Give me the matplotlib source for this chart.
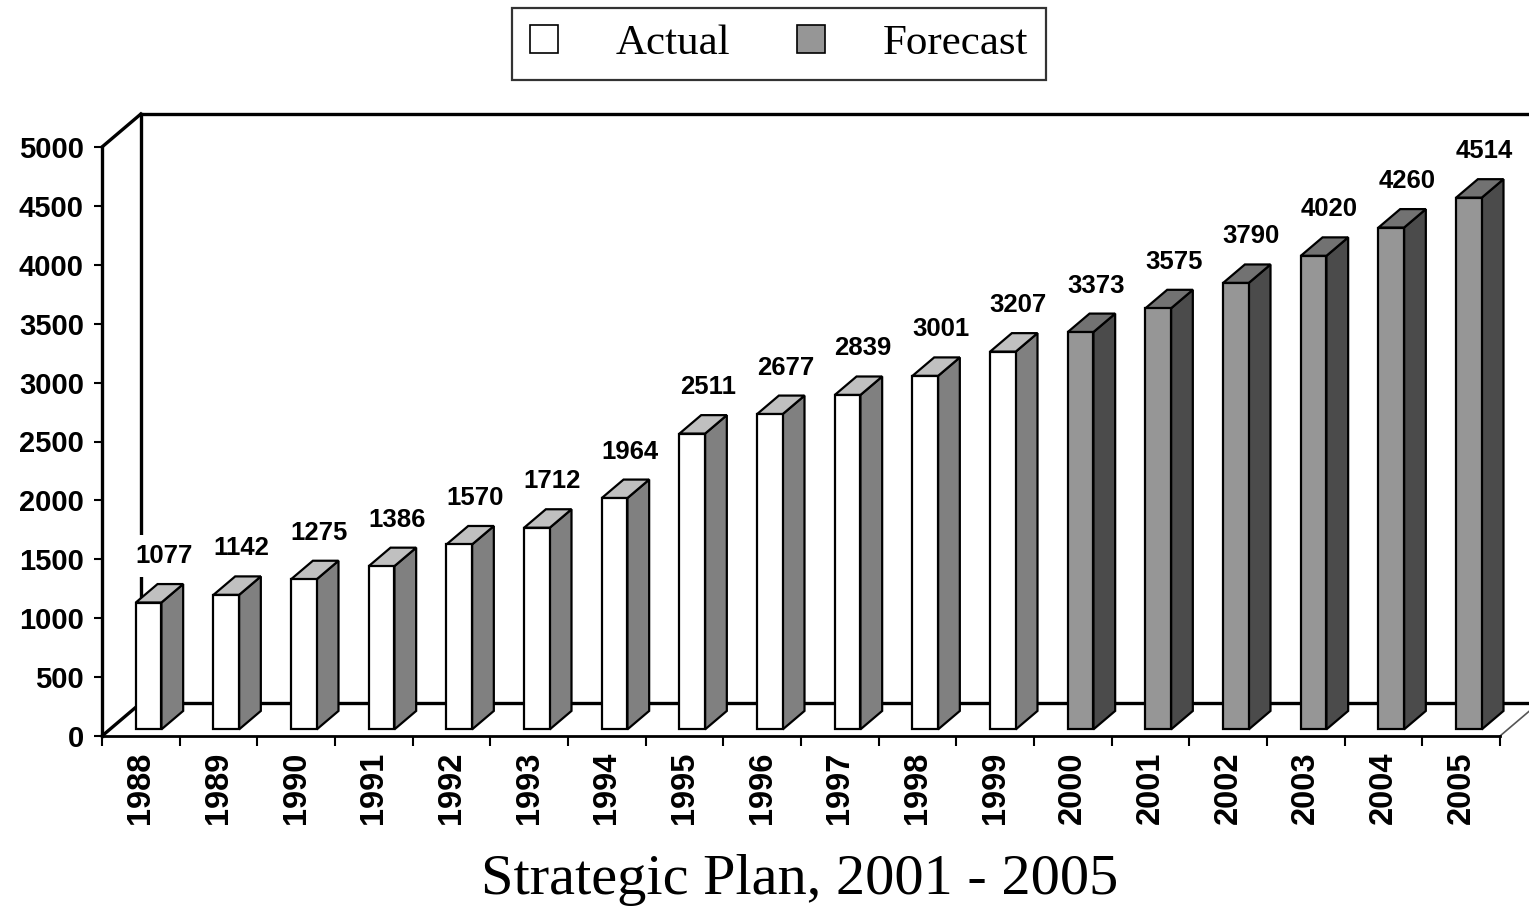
import matplotlib
matplotlib.use("Agg")
import matplotlib.pyplot as plt
from matplotlib.patches import Polygon, Patch

# ── data ──────────────────────────────────────────────────────────────────────
years = [str(y) for y in range(1988, 2006)]
values = [1077, 1142, 1275, 1386, 1570, 1712, 1964, 2511, 2677,
          2839, 3001, 3207, 3373, 3575, 3790, 4020, 4260, 4514]
n_actual = 12                      # 1988-1999 actual, 2000-2005 forecast
y_ticks = list(range(0, 5001, 500))
title = "Strategic Plan, 2001 - 2005"

# ── styling ───────────────────────────────────────────────────────────────────
SANS = "Liberation Sans"
SERIF = "Liberation Serif"
DX, DY = 0.5, 280.0                # oblique offset of one unit of depth
BAR_W = 0.33
D0, D1 = 0.2, 0.76                 # bar depth range inside the box

actual_cols = {"front": "#ffffff", "side": "#808080", "top": "#c0c0c0"}
fcst_cols = {"front": "#969696", "side": "#4b4b4b", "top": "#727272"}


def proj(x, y, d):
    return (x + d * DX, y + d * DY)


fig = plt.figure(figsize=(15.29, 9.08), dpi=100)
ax = fig.add_axes([102 / 1529, (908 - 736) / 908, 1398 / 1529, 589 / 908])
ax.set_xlim(-0.5, len(years) - 0.5)
ax.set_ylim(0, 5000)
ax.patch.set_alpha(0)

x_lo, x_hi = -0.5, len(years) - 0.5
y_hi = 5000

# back wall / floor outline
wall = dict(color="black", lw=2.4, clip_on=False, solid_capstyle="projecting")
for a, b in [((x_lo, y_hi, 0), (x_lo, y_hi, 1)),
             ((x_lo, 0, 0), (x_lo, 0, 1)),
             ((x_lo, 0, 1), (x_lo, y_hi, 1)),
             ((x_lo, y_hi, 1), (x_hi + 0.6, y_hi, 1)),
             ((x_lo, 0, 1), (x_hi + 0.6, 0, 1))]:
    p, q = proj(*a), proj(*b)
    ax.plot([p[0], q[0]], [p[1], q[1]], **wall)
p, q = proj(x_hi, 0, 0), proj(x_hi, 0, 1)
ax.plot([p[0], q[0]], [p[1], q[1]], color="#555555", lw=1.2, clip_on=False)

# bars
for i, v in enumerate(values):
    cols = actual_cols if i < n_actual else fcst_cols
    x0, x1 = i - BAR_W / 2, i + BAR_W / 2
    faces = {
        "side": [proj(x1, 0, D0), proj(x1, 0, D1), proj(x1, v, D1), proj(x1, v, D0)],
        "top": [proj(x0, v, D0), proj(x1, v, D0), proj(x1, v, D1), proj(x0, v, D1)],
        "front": [proj(x0, 0, D0), proj(x1, 0, D0), proj(x1, v, D0), proj(x0, v, D0)],
    }
    for name, pts in faces.items():
        ax.add_patch(Polygon(pts, closed=True, facecolor=cols[name],
                             edgecolor="black", lw=1.6, joinstyle="miter",
                             clip_on=False, zorder=3))
    ax.annotate(str(v), xy=proj(i, v, 0.6), xytext=(0, 24),
                textcoords="offset points", ha="center", va="center",
                fontsize=18.5, fontweight="bold", family=SANS, zorder=5,
                bbox=dict(boxstyle="square,pad=0.35", fc="white", ec="none"))

# axes, ticks
for s in ["top", "right"]:
    ax.spines[s].set_visible(False)
ax.spines["left"].set_linewidth(2.4)
ax.spines["bottom"].set_linewidth(2.0)

ax.set_yticks(y_ticks)
ax.set_yticklabels([str(t) for t in y_ticks], fontsize=21, fontweight="bold",
                   family=SANS)
ax.tick_params(axis="y", direction="out", length=6, width=1.5, pad=7)

ax.set_xticks([k - 0.5 for k in range(len(years) + 1)])
ax.set_xticklabels([])
ax.tick_params(axis="x", which="major", direction="out", length=7, width=1.5)
ax.set_xticks(range(len(years)), minor=True)
ax.set_xticklabels(years, minor=True, rotation=90, fontsize=23.5,
                   fontweight="bold", family=SANS, va="top")
ax.tick_params(axis="x", which="minor", length=0, pad=11)

# legend
handles = [Patch(facecolor="white", edgecolor="black", lw=1.2, label="Actual"),
           Patch(facecolor="#969696", edgecolor="black", lw=1.2, label="Forecast")]
leg = fig.legend(handles=handles, loc="center", bbox_to_anchor=(779 / 1529, 1 - 44 / 908),
                 ncol=2, frameon=True, fancybox=False, handlelength=0.65,
                 handleheight=0.65, handletextpad=1.35, columnspacing=1.55,
                 borderpad=0.4, prop={"family": SERIF, "size": 31})
leg.get_frame().set_edgecolor("black")
leg.get_frame().set_linewidth(1.6)

fig.text(800 / 1529, 1 - 880 / 908, title, ha="center", va="center",
         family=SERIF, fontsize=42)

plt.savefig("out.png", dpi=100)
plt.close()
